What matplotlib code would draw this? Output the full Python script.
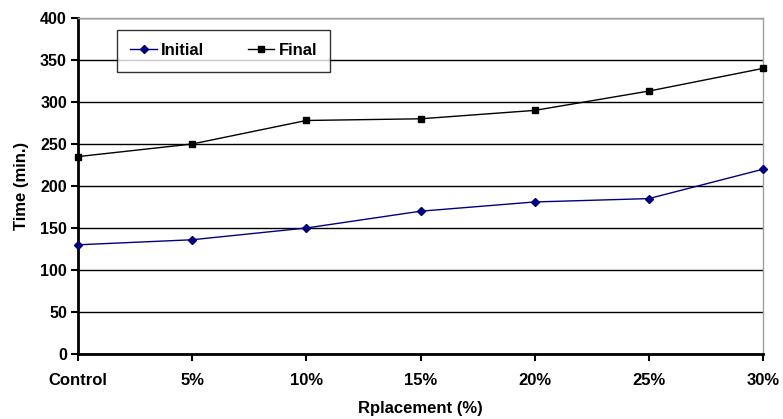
import matplotlib
matplotlib.use("Agg")
import matplotlib.pyplot as plt

plt.rcParams['font.family'] = ['Liberation Sans', 'DejaVu Sans']
plt.rcParams['font.weight'] = 'bold'

categories = ["Control", "5%", "10%", "15%", "20%", "25%", "30%"]
initial = [130, 136, 150, 170, 181, 185, 220]
final = [235, 250, 278, 280, 290, 313, 340]
y_ticks = [0, 50, 100, 150, 200, 250, 300, 350, 400]

W, H = 783, 419
fig = plt.figure(figsize=(W / 100, H / 100), dpi=100)
ax = fig.add_axes([78 / W, (H - 354) / H, 685 / W, 336 / H])

x = list(range(len(categories)))
ax.plot(x, initial, color="#000080", lw=1.0, marker="D", ms=4, label="Initial",
        zorder=3, clip_on=False)
ax.plot(x, final, color="black", lw=1.0, marker="s", ms=5, label="Final",
        zorder=3, clip_on=False)

ax.set_xlim(0, len(categories) - 1)
ax.set_ylim(0, 400)
ax.set_xticks(x)
ax.set_xticklabels(categories)
ax.set_yticks(y_ticks)
ax.yaxis.grid(True, color="black", lw=1.0)
ax.set_axisbelow(True)

for s in ("top", "right"):
    ax.spines[s].set_color("#a0a0a0")
    ax.spines[s].set_linewidth(1.0)
for s in ("left", "bottom"):
    ax.spines[s].set_color("black")
    ax.spines[s].set_linewidth(2.0)

ax.tick_params(axis="both", direction="out", length=5, width=1.5)
ax.tick_params(axis="x", pad=9, labelsize=12)
ax.tick_params(axis="y", pad=3, labelsize=11.5)
for lab in ax.get_xticklabels() + ax.get_yticklabels():
    lab.set_fontweight("bold")

ax.set_xlabel("Rplacement (%)", fontsize=12, fontweight="bold", labelpad=9)
ax.set_ylabel("Time (min.)", fontsize=12, fontweight="bold", labelpad=8)

leg = ax.legend(loc="upper left", bbox_to_anchor=((117 - 78) / 685, (354 - 30) / 336),
                ncol=2, frameon=True, fancybox=False, edgecolor="black",
                prop={"size": 12, "weight": "bold"}, handlelength=1.6,
                handletextpad=0.25, columnspacing=2.6, borderpad=0.8,
                borderaxespad=0)
leg.get_frame().set_linewidth(1.0)

fig.savefig("out.png", dpi=100)
